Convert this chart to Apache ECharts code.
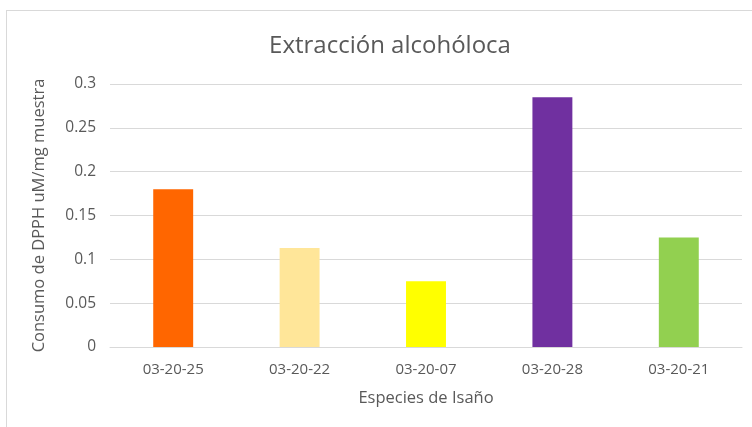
<!DOCTYPE html>
<html>
<head>
<meta charset="utf-8">
<script src="https://cdn.jsdelivr.net/npm/echarts@6/dist/echarts.min.js"></script>
<style>
  html, body { margin: 0; padding: 0; background: #fff; }
  #frame { position: absolute; left: 6px; top: 10px; width: 760px; height: 430px;
           border-top: 1px solid #d9d9d9; border-left: 1px solid #d9d9d9; }
  #chart { position: absolute; left: 0; top: 0; width: 752px; height: 427px; }
</style>
</head>
<body>
<div id="frame"></div>
<div id="chart"></div>
<script>
// Antioxidant activity per Isaño accession
const categories = ['03-20-25', '03-20-22', '03-20-07', '03-20-28', '03-20-21'];
const values = [0.18, 0.113, 0.075, 0.285, 0.125];
const barColors = ['#FF6600', '#FFE699', '#FFFF00', '#7030A0', '#92D050'];
const yTicks = [0, 0.05, 0.1, 0.15, 0.2, 0.25, 0.3];

const font = 'Open Sans, Noto Sans, sans-serif';
const chart = echarts.init(document.getElementById('chart'));
chart.setOption({
  animation: false,
  title: {
    text: 'Extracción alcohóloca',
    left: 385, top: 29, textAlign: 'center',
    textStyle: { fontFamily: font, fontSize: 24, fontWeight: 'normal', color: '#595959' }
  },
  grid: { left: 110, right: 10, top: 84, bottom: 80 },
  xAxis: {
    type: 'category',
    data: categories,
    name: 'Especies de Isaño',
    nameLocation: 'middle',
    nameGap: 43,
    nameTextStyle: { fontFamily: font, fontSize: 16.5, color: '#595959' },
    axisLine: { lineStyle: { color: '#d9d9d9' } },
    axisTick: { show: false },
    axisLabel: { fontFamily: font, fontSize: 15, color: '#595959', margin: 15 }
  },
  yAxis: {
    type: 'value',
    min: yTicks[0], max: yTicks[yTicks.length - 1], interval: 0.05,
    name: 'Consumo de DPPH uM/mg muestra',
    nameLocation: 'middle',
    nameGap: 62,
    nameTextStyle: { fontFamily: font, fontSize: 16.5, color: '#595959' },
    axisLine: { show: false },
    axisTick: { show: false },
    splitLine: { lineStyle: { color: '#d9d9d9', width: 1 } },
    axisLabel: { fontFamily: font, fontSize: 15.5, color: '#595959', margin: 14,
      formatter: v => String(+v.toFixed(2)) }
  },
  series: [{
    type: 'bar',
    barWidth: '31.6%',
    data: values.map((v, i) => ({ value: v, itemStyle: { color: barColors[i] } }))
  }]
});
</script>
</body>
</html>
